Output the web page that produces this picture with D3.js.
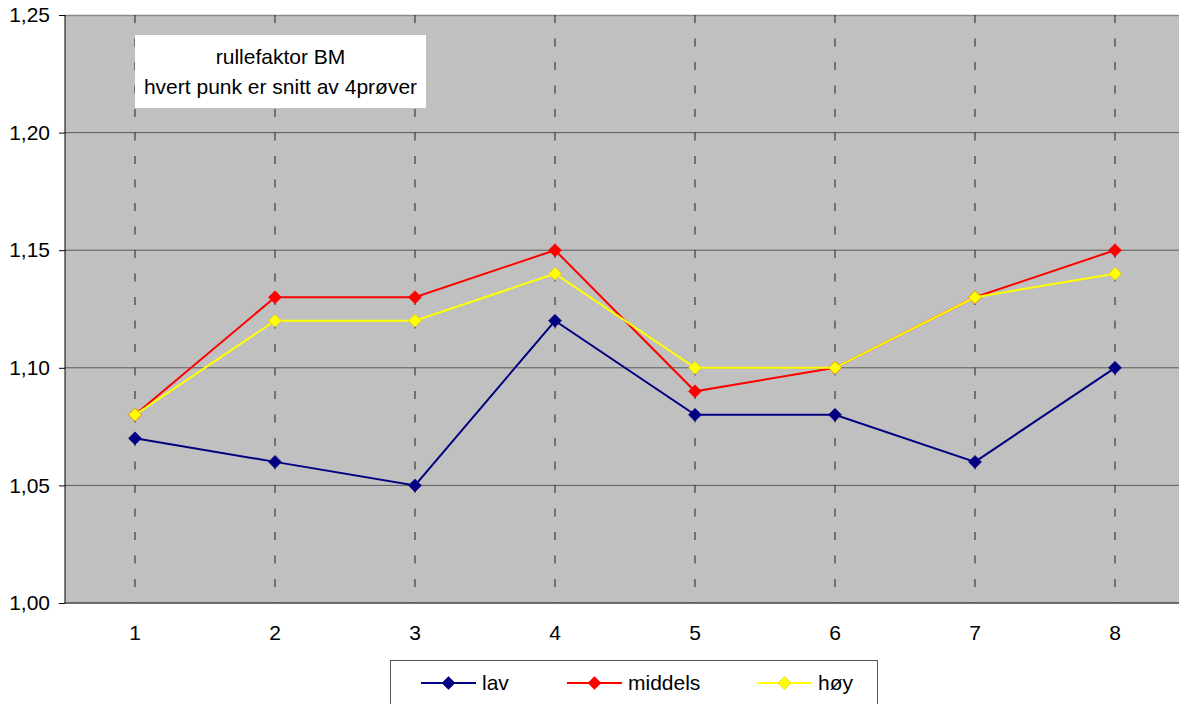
<!DOCTYPE html>
<html><head><meta charset="utf-8">
<script src="https://cdn.jsdelivr.net/npm/d3@7"></script>
<style>body{margin:0;background:#fff}svg{display:block;font-family:"Liberation Sans",Arial,sans-serif}</style>
</head><body>
<svg id="c" width="1179" height="704"></svg>
<script>
const categories = ["1","2","3","4","5","6","7","8"];
const lav = [1.07,1.06,1.05,1.12,1.08,1.08,1.06,1.10];
const middels = [1.08,1.13,1.13,1.15,1.09,1.10,1.13,1.15];
const hoy = [1.08,1.12,1.12,1.14,1.10,1.10,1.13,1.14];
const seriesNames = ["lav","middels","høy"];
const seriesColors = ["#000080","#FF0000","#FFFF00"];
const yTicks = [1.00,1.05,1.10,1.15,1.20,1.25];
const noteLines = ["rullefaktor BM","hvert punk er snitt av 4prøver"];

const FS = 21;
const series = [lav, middels, hoy].map((v,i)=>({name:seriesNames[i],color:seriesColors[i],values:v}));
const svg = d3.select("#c");
const L=65, T=15, R=1185, B=603;
const x = d3.scaleBand().domain(categories).range([L,R]);
const y = d3.scaleLinear().domain([1.00,1.25]).range([B,T]);
const cx = d => x(d)+x.bandwidth()/2;

svg.append("rect").attr("x",L).attr("y",T).attr("width",R-L).attr("height",B-T).attr("fill","#C0C0C0");
svg.append("g").selectAll("line").data(yTicks.slice(1,-1)).join("line")
  .attr("x1",L).attr("x2",R).attr("y1",d=>y(d)).attr("y2",d=>y(d))
  .attr("stroke","#5a5a5a").attr("stroke-width",1);
svg.append("line").attr("x1",L).attr("x2",R).attr("y1",T+0.5).attr("y2",T+0.5).attr("stroke","#8a8a8a").attr("stroke-width",1.5);
svg.append("g").selectAll("line").data(categories).join("line")
  .attr("x1",d=>cx(d)).attr("x2",d=>cx(d)).attr("y1",T).attr("y2",B)
  .attr("stroke","#222").attr("stroke-width",1).attr("stroke-dasharray","8,15.5");
svg.append("line").attr("x1",L).attr("x2",R).attr("y1",B).attr("y2",B).attr("stroke","#444").attr("stroke-width",1.5);

const yAxis = d3.axisLeft(y).tickValues(yTicks).tickSize(6).tickPadding(9)
  .tickFormat(d=>d3.format(".2f")(d).replace(".",","));
const ya = svg.append("g").attr("transform",`translate(${L},0)`).call(yAxis);
ya.select(".domain").attr("stroke","#000").attr("d",`M-0,${T}V${B}`);
ya.selectAll(".tick line").attr("stroke","#000");
ya.selectAll("text").attr("font-size",FS).attr("fill","#000").attr("font-family","Liberation Sans, Arial, sans-serif");

const xAxis = d3.axisBottom(x).tickSize(0).tickPadding(22);
const xa = svg.append("g").attr("transform",`translate(0,${B})`).call(xAxis);
xa.select(".domain").remove();
xa.selectAll("text").attr("font-size",FS).attr("fill","#000").attr("font-family","Liberation Sans, Arial, sans-serif");

svg.append("rect").attr("x",135).attr("y",35).attr("width",291).attr("height",73).attr("fill","#fff");
svg.append("g").selectAll("text").data(noteLines).join("text")
  .attr("x",280.5).attr("y",(d,i)=>57+i*30).attr("dy","0.35em").attr("text-anchor","middle")
  .attr("font-size",FS).attr("fill","#000").text(d=>d);

const line = d3.line().x((d,i)=>cx(categories[i])).y(d=>y(d));
const diamond = (px,py,r)=>`M${px},${py-r}L${px+r},${py}L${px},${py+r}L${px-r},${py}Z`;
series.forEach(s=>{
  svg.append("path").attr("d",line(s.values)).attr("fill","none").attr("stroke",s.color).attr("stroke-width",2);
  svg.append("g").selectAll("path").data(s.values).join("path")
    .attr("d",(d,i)=>diamond(cx(categories[i]),y(d),6.5))
    .attr("fill",s.color).attr("stroke",s.color==="#FFFF00"?"#e0c000":s.color).attr("stroke-width",0.6);
});

svg.append("rect").attr("x",390.5).attr("y",660.5).attr("width",487).attr("height",60).attr("fill","#fff").attr("stroke","#555").attr("stroke-width",1);
const lx = [421,567,757];
const lg = svg.append("g").selectAll("g").data(series).join("g").attr("transform",(d,i)=>`translate(${lx[i]},683)`);
lg.append("line").attr("x1",0).attr("x2",55).attr("stroke",d=>d.color).attr("stroke-width",2);
lg.append("path").attr("d",diamond(27.5,0,6.5)).attr("fill",d=>d.color).attr("stroke",d=>d.color==="#FFFF00"?"#e0c000":d.color).attr("stroke-width",0.6);
lg.append("text").attr("x",61).attr("dy","0.35em").attr("font-size",FS).attr("fill","#000").text(d=>d.name);
</script>
</body></html>
